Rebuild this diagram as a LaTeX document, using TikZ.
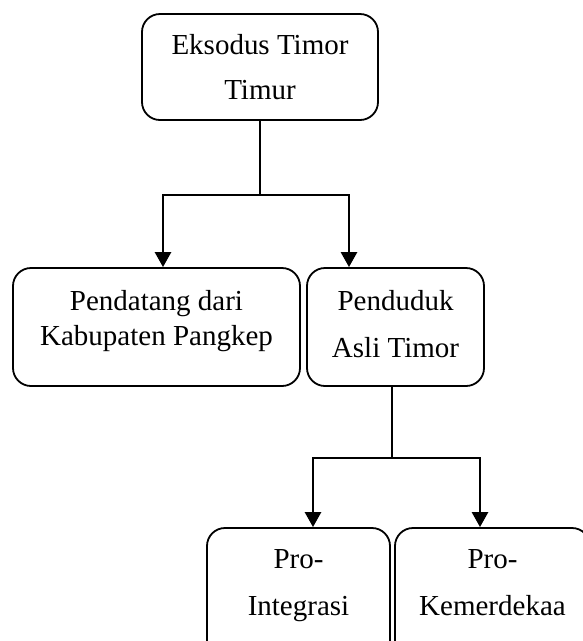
\documentclass[tikz,border=0pt]{standalone}
\usepackage{fontspec}
\setmainfont{Liberation Serif}
\usepackage{tikz}
\usetikzlibrary{positioning,calc,arrows.meta}

\begin{document}
\begin{tikzpicture}[x=1pt, y=-1pt,
  box/.style={draw, rounded corners=18pt, line width=1.8pt, inner sep=0pt, align=center,
    font=\fontsize{29}{35}\selectfont},
  conn/.style={line width=2.6pt},
  arr/.style={line width=2.6pt, -{Triangle[width=16pt,length=15pt]}}]
\useasboundingbox (0,0) rectangle (582,641);
% Boxes
\node[box, minimum width=236pt, minimum height=106pt] (eksodus) at (260,67) {Eksodus Timor\\[10pt]Timur};
\node[box, minimum width=287pt, minimum height=118pt] (pendatang) at (156.5,327) {Pendatang dari\\Kabupaten Pangkep\rule[-18pt]{0pt}{0pt}};
\node[box, minimum width=177pt, minimum height=118pt] (penduduk) at (395.5,327) {Penduduk\\[12pt]Asli Timor\rule[-7pt]{0pt}{0pt}};
\node[box, minimum width=183pt, minimum height=130pt] (integrasi) at (298.5,593) {Pro-\\[12pt]Integrasi\rule[-22pt]{0pt}{0pt}};
\node[box, minimum width=195pt, minimum height=130pt] (merdeka) at (492.5,593) {Pro-\\[12pt]Kemerdekaa\rule[-22pt]{0pt}{0pt}};

% Branch points
\coordinate (split1) at (260,195);
\coordinate (split2) at (392,458);

% Connectors
\draw[conn] (eksodus.south) -- (split1);
\draw[arr] (split1) -| ([xshift=6.5pt]pendatang.north);
\draw[arr] (split1) -| ([xshift=-46.5pt]penduduk.north);
\draw[conn] ([xshift=-3.5pt]penduduk.south) -- (split2);
\draw[arr] (split2) -| ([xshift=14.5pt]integrasi.north);
\draw[arr] (split2) -| ([xshift=-12.5pt]merdeka.north);
\end{tikzpicture}
\end{document}
